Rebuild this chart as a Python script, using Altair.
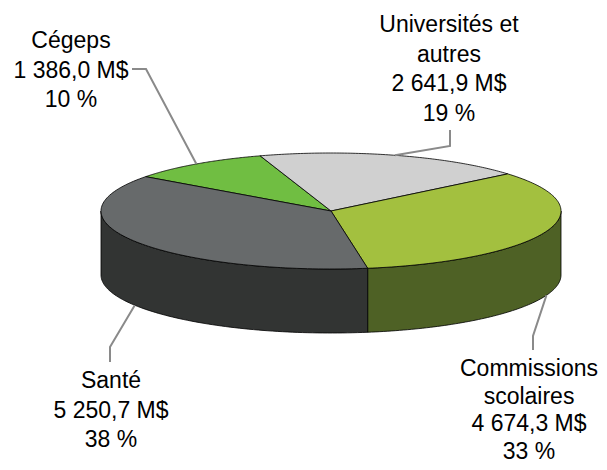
import altair as alt
import numpy as np
import pandas as pd

# ---------------- data ----------------
categories = ["Cégeps", "Universités et autres", "Commissions scolaires", "Santé"]
values = [1386.0, 2641.9, 4674.3, 5250.7]
label_texts = [
    "Cégeps\n1 386,0 M$\n10 %",
    "Universités et\nautres\n2 641,9 M$\n19 %",
    "Commissions\nscolaires\n4 674,3 M$\n33 %",
    "Santé\n5 250,7 M$\n38 %",
]

# ---------------- styles / layout ----------------
top_colors = ["#70be42", "#d0d0d0", "#a3c03f", "#676a6b"]
side_colors = ["#4f8f2c", "#9a9a9a", "#4e6125", "#323433"]
CX, CY, A, B, DEPTH = 331.0, 211.0, 230.0, 58.0, 64.0
START = 143.7  # first slice start angle (deg, counter-clockwise from 3 o'clock), slices go clockwise
# label anchor (x centre, first baseline) and elbow of leader line
label_pos = [(71, 48), (449, 32), (529, 376), (111, 388)]
label_line_height = [29.5, 29.5, 27.5, 29.5]
leader_start = [(132, 69), (450, 130), (533, 350), (110, 362)]
leader_elbow = [(146, 69), (450, 146), (533, 336), (110, 347)]

W, H = 591, 454

total = sum(values)
spans = [v / total * 360.0 for v in values]
t_start, t_end = [], []
cur = START
for s in spans:
    t_start.append(cur)
    t_end.append(cur - s)
    cur -= s


def pt(t, dz=0.0):
    r = np.radians(t)
    return CX + A * np.cos(r), CY - B * np.sin(r) + dz


rows = []
# sides (front half: angles in [-180, 0] mod 360)
for i, cat in enumerate(categories):
    lo_s, hi_s = t_end[i], t_start[i]
    for k in (-1, 0, 1):
        lo = max(lo_s, -180 + 360 * k)
        hi = min(hi_s, 0 + 360 * k)
        if hi <= lo:
            continue
        ts = np.linspace(lo, hi, 80)
        pts = [pt(t) for t in ts] + [pt(t, DEPTH) for t in ts[::-1]]
        pts.append(pts[0])
        sid = f"side_{i}_{k}"
        for j, (x, y) in enumerate(pts):
            rows.append(dict(shape=sid, layer=0, i=j, x=x, y=y, col=side_colors[i]))
# tops
for i, cat in enumerate(categories):
    ts = np.linspace(t_start[i], t_end[i], 100)
    pts = [(CX, CY)] + [pt(t) for t in ts] + [(CX, CY)]
    sid = f"top_{i}"
    for j, (x, y) in enumerate(pts):
        rows.append(dict(shape=sid, layer=1, i=j, x=x, y=y, col=top_colors[i]))
poly = pd.DataFrame(rows)

# leader lines, ending at each slice's mid angle on the visible edge
lrows = []
for i, cat in enumerate(categories):
    mid = (t_start[i] + t_end[i]) / 2
    end = pt(mid) if np.sin(np.radians(mid)) >= 0 else pt(mid, DEPTH)
    for j, (x, y) in enumerate([leader_start[i], leader_elbow[i], end]):
        lrows.append(dict(cat=cat, i=j, x=x, y=y))
leaders = pd.DataFrame(lrows)

labels = pd.DataFrame(
    dict(cat=categories, text=label_texts, lh=label_line_height,
         x=[p[0] for p in label_pos], y=[p[1] for p in label_pos])
)

xs = alt.Scale(domain=[8, 8 + W], nice=False, zero=False)
ys = alt.Scale(domain=[8, 8 + H], nice=False, zero=False, reverse=True)
X = lambda: alt.X("x:Q", scale=xs, axis=None)
Y = lambda: alt.Y("y:Q", scale=ys, axis=None)

sides = alt.Chart(poly[poly.layer == 0]).mark_line(
    filled=True, stroke="black", strokeWidth=0.8, strokeJoin="round"
).encode(x=X(), y=Y(), order=alt.Order("i:Q"), detail="shape:N",
         color=alt.Color("col:N", scale=None))

tops = alt.Chart(poly[poly.layer == 1]).mark_line(
    filled=True, stroke="black", strokeWidth=0.8, strokeJoin="round"
).encode(x=X(), y=Y(), order=alt.Order("i:Q"), detail="shape:N",
         color=alt.Color("col:N", scale=None))

lead = alt.Chart(leaders).mark_line(color="#8a8a8a", strokeWidth=2).encode(
    x=X(), y=Y(), order=alt.Order("i:Q"), detail="cat:N")

text_layers = []
for lh in sorted(set(label_line_height)):
    text_layers.append(
        alt.Chart(labels[labels.lh == lh]).mark_text(
            font="Liberation Sans", fontSize=23, lineHeight=lh, lineBreak="\n",
            align="center", baseline="alphabetic", color="black"
        ).encode(x=X(), y=Y(), text="text:N")
    )

chart = alt.layer(sides, tops, lead, *text_layers).properties(
    width=W, height=H, padding=0, autosize=alt.AutoSizeParams(type="none")
).configure_view(stroke=None)

chart.save("out.html", embed_options={"renderer": "svg", "actions": False})
